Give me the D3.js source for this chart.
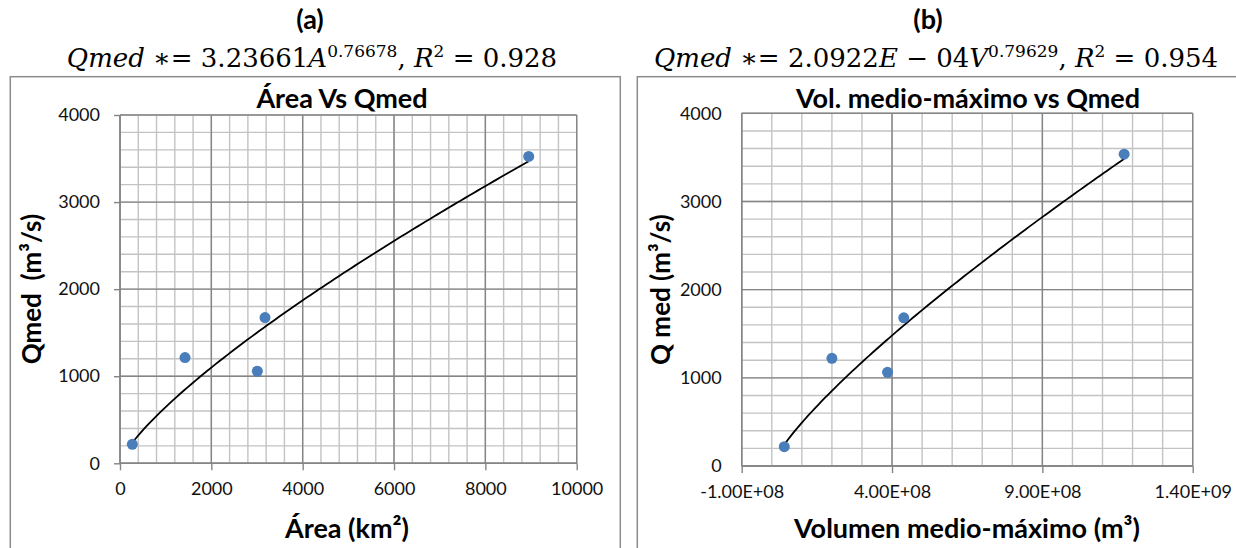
<!DOCTYPE html>
<html><head><meta charset="utf-8">
<script src="https://cdn.jsdelivr.net/npm/d3@7"></script>
<style>body{margin:0;background:#fff}svg{display:block}</style>
</head><body>
<svg id="c" width="1236" height="548"></svg>
<script>
// Panel (a): Área vs Qmed
const areaKm2 = [270, 1423, 3007, 3175, 8949];
const qmedA   = [218, 1214, 1057, 1674, 3524];
const fitA = {coef: 3.23661, exp: 0.76678};
const xTicksA = [0, 2000, 4000, 6000, 8000, 10000];
// Panel (b): Vol. medio-máximo vs Qmed
const volM3 = [4.16e7, 2.0e8, 3.85e8, 4.39e8, 1.172e9];
const qmedB = [219, 1221, 1062, 1681, 3537];
const fitB = {coef: 2.0922e-4, exp: 0.79629};
const xTicksB = [-1e8, 4e8, 9e8, 1.4e9];
const yTicks = [0, 1000, 2000, 3000, 4000];

const svg = d3.select('#c');
const sans = "Lato, 'Open Sans', sans-serif";
const serif = "'DejaVu Serif', serif";
const MINOR = '#c3c3c3', MAJOR = '#858585', FRAME = '#8c8c8c';

function fmtE(v){
  let s = v.toExponential(2).toUpperCase();
  return s.replace(/E([+-])(\d)$/, 'E$10$2');
}

function panel(o){
  const g = svg.append('g');
  g.append('rect').attr('x', o.frame[0]).attr('y', o.frame[1]).attr('width', o.frame[2]).attr('height', o.frame[3])
    .attr('fill','none').attr('stroke', FRAME).attr('stroke-width',1.5);
  g.append('text').attr('x', o.hx).attr('y', 29).attr('text-anchor','middle')
    .style('font-family', sans).style('font-weight','bold').style('font-size','27px').text(o.letter);
  const eq = g.append('text').attr('x', o.ex).attr('y', 67).attr('text-anchor','middle')
    .style('font-family', serif).style('font-size','26px');
  o.eq.forEach(p => {
    const t = eq.append('tspan').text(p.t);
    if (p.i) t.style('font-style','italic');
    if (p.sup) t.attr('dy', -10).style('font-size','17px');
    if (p.back) t.attr('dy', 10);
  });
  g.append('text').attr('x', o.tx).attr('y', 108).attr('text-anchor','middle')
    .style('font-family', sans).style('font-weight','bold').style('font-size','27px').text(o.title);

  const x = d3.scaleLinear().domain(o.xd).range([o.L, o.R]);
  const y = d3.scaleLinear().domain([0, 4000]).range([o.B, o.T]);
  d3.range(o.xd[0], o.xd[1] + o.xm/2, o.xm).forEach(v => {
    g.append('line').attr('x1', x(v)).attr('x2', x(v)).attr('y1', o.T).attr('y2', o.B).attr('stroke', MINOR).attr('stroke-width',1.4);
  });
  d3.range(0, 4000 + 1, 200).forEach(v => {
    g.append('line').attr('x1', o.L).attr('x2', o.R).attr('y1', y(v)).attr('y2', y(v)).attr('stroke', MINOR).attr('stroke-width',1.4);
  });
  o.xt.forEach(v => g.append('line').attr('x1', x(v)).attr('x2', x(v)).attr('y1', o.T).attr('y2', o.B).attr('stroke', MAJOR).attr('stroke-width',1.4));
  yTicks.forEach(v => g.append('line').attr('x1', o.L).attr('x2', o.R).attr('y1', y(v)).attr('y2', y(v)).attr('stroke', MAJOR).attr('stroke-width',1.4));

  const xa = g.append('g').attr('transform', `translate(0,${o.B})`)
    .call(d3.axisBottom(x).tickValues(o.xt).tickSize(7).tickPadding(12).tickFormat(o.xf));
  const ya = g.append('g').attr('transform', `translate(${o.L},0)`)
    .call(d3.axisLeft(y).tickValues(yTicks).tickSize(o.yTick).tickPadding(o.yPad).tickFormat(d3.format('d')));
  [xa, ya].forEach(a => {
    a.select('.domain').attr('stroke', MAJOR).attr('stroke-width',1.4);
    a.selectAll('.tick line').attr('stroke', MAJOR).attr('stroke-width',1.4);
    a.selectAll('text').style('font-family', sans).style('font-size','18px').attr('fill','#111');
  });
  ya.select('.domain').attr('d', `M0,${o.B}V${o.T}`);
  xa.select('.domain').attr('d', `M0,0H${o.R - o.L}`).attr('transform', `translate(${o.L},0)`);

  g.append('text').attr('x', o.xlx).attr('y', 538).attr('text-anchor','middle')
    .style('font-family', sans).style('font-weight','bold').style('font-size','27px').text(o.xlabel);
  g.append('text').attr('transform', `translate(${o.ylx},${(o.T+o.B)/2}) rotate(-90)`).attr('text-anchor','middle')
    .style('font-family', sans).style('font-weight','bold').style('font-size','26px').attr('xml:space','preserve').text(o.ylabel);

  const xmin = d3.min(o.xs), xmax = d3.max(o.xs);
  const pts = d3.range(0, 101).map(i => {
    const v = xmin + (xmax - xmin) * i / 100;
    return [v, o.fit.coef * Math.pow(v, o.fit.exp)];
  });
  g.append('path').datum(pts).attr('fill','none').attr('stroke','#000').attr('stroke-width',1.8)
    .attr('d', d3.line().x(d => x(d[0])).y(d => y(d[1])));
  g.selectAll('circle.p').data(o.xs.map((v,i)=>[v, o.ys[i]])).enter().append('circle')
    .attr('cx', d => x(d[0])).attr('cy', d => y(d[1])).attr('r', 5.5).attr('fill', '#4a7ebb');
}

panel({
  frame: [10.3, 76.7, 610, 480], letter: '(a)', hx: 310, ex: 312, tx: 342,
  eq: [{t:'Qmed', i:1},{t:' ∗= 3.23661'},{t:'A', i:1},{t:'0.76678', sup:1},{t:', ', back:1},{t:'R', i:1},{t:'2', sup:1},{t:' = 0.928', back:1}],
  title: 'Área Vs Qmed', L: 120, R: 576.7, T: 115, B: 463.3, xd: [0, 10000], xm: 400, xt: xTicksA,
  xf: d3.format('d'), yTick: 6, yPad: 14, xlabel: 'Área (km²)', xlx: 347, ylabel: 'Qmed  (m³/s)', ylx: 41,
  xs: areaKm2, ys: qmedA, fit: fitA
});
panel({
  frame: [637.3, 76.7, 640, 480], letter: '(b)', hx: 928, ex: 936, tx: 968,
  eq: [{t:'Qmed', i:1},{t:' ∗= 2.0922'},{t:'E', i:1},{t:' − 04'},{t:'V', i:1},{t:'0.79629', sup:1},{t:', ', back:1},{t:'R', i:1},{t:'2', sup:1},{t:' = 0.954', back:1}],
  title: 'Vol. medio-máximo vs Qmed', L: 741.7, R: 1192.7, T: 113.3, B: 466, xd: [-1e8, 1.4e9], xm: 1e8, xt: xTicksB,
  xf: fmtE, yTick: 0, yPad: 20, xlabel: 'Volumen medio-máximo (m³)', xlx: 967, ylabel: 'Q med (m³/s)', ylx: 670,
  xs: volM3, ys: qmedB, fit: fitB
});
</script>
</body></html>
